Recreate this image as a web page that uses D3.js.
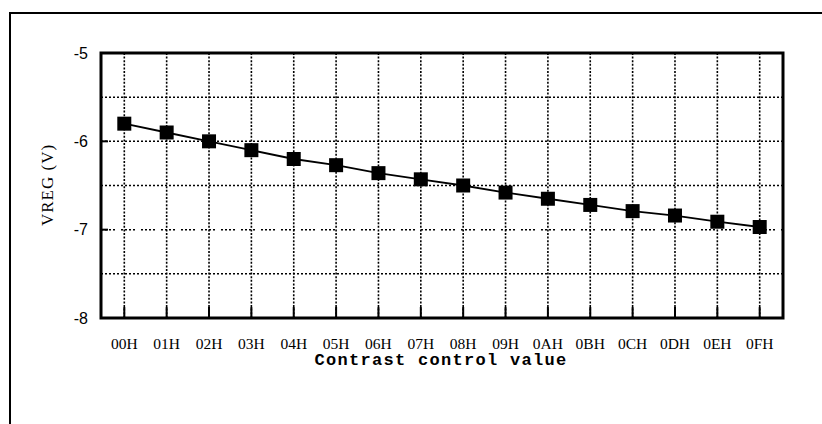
<!DOCTYPE html>
<html>
<head>
<meta charset="utf-8">
<script src="https://cdn.jsdelivr.net/npm/d3@7"></script>
<style>
  body { margin: 0; background: #fff; }
  svg { display: block; }
</style>
</head>
<body>
<svg id="chart" width="822" height="424"></svg>
<script>
// contrast codes on the x axis
const codes = ["00H", "01H", "02H", "03H", "04H", "05H", "06H", "07H",
               "08H", "09H", "0AH", "0BH", "0CH", "0DH", "0EH", "0FH"];
// VREG readings (V)
const vreg = [-5.8, -5.9, -6.0, -6.1, -6.2, -6.27, -6.36, -6.43,
              -6.5, -6.58, -6.65, -6.72, -6.79, -6.84, -6.91, -6.97];
const yTicks = [-5, -6, -7, -8];
const yGrid = [-5.5, -6, -6.5, -7, -7.5];

const svg = d3.select("#chart");
const plotL = 101, plotR = 783, plotT = 53, plotB = 318;

const x = d3.scalePoint().domain(codes).range([plotL, plotR]).padding(0.55);
const y = d3.scaleLinear().domain([-8, -5]).range([plotB, plotT]);

// outer frame (only left + top visible in scan)
svg.append("path")
    .attr("d", "M10,424 L10,13 L822,13")
    .attr("fill", "none")
    .attr("stroke", "#000")
    .attr("stroke-width", 2);

// dotted grid
svg.append("g").selectAll("line")
    .data(codes)
    .join("line")
    .attr("x1", d => x(d)).attr("x2", d => x(d))
    .attr("y1", plotT).attr("y2", plotB)
    .attr("stroke", "#000")
    .attr("stroke-width", 1.6)
    .attr("stroke-dasharray", "2,1.6");

svg.append("g").selectAll("line")
    .data(yGrid)
    .join("line")
    .attr("x1", plotL).attr("x2", plotR)
    .attr("y1", d => y(d)).attr("y2", d => y(d))
    .attr("stroke", "#000")
    .attr("stroke-width", 1.5)
    .attr("stroke-dasharray", d => d === -7 ? "2,2,2,2,2,2,2,6" : "2,2");

// short ticks inside the bottom axis
svg.append("g").selectAll("line")
    .data(codes)
    .join("line")
    .attr("x1", d => x(d)).attr("x2", d => x(d))
    .attr("y1", plotB).attr("y2", plotB - 11)
    .attr("stroke", "#000")
    .attr("stroke-width", 2);

// small ticks on left axis
svg.append("g").selectAll("line")
    .data(yTicks)
    .join("line")
    .attr("x1", plotL).attr("x2", plotL + 7)
    .attr("y1", d => y(d)).attr("y2", d => y(d))
    .attr("stroke", "#000")
    .attr("stroke-width", 2);

// plot frame
svg.append("rect")
    .attr("x", plotL).attr("y", plotT)
    .attr("width", plotR - plotL).attr("height", plotB - plotT)
    .attr("fill", "none")
    .attr("stroke", "#000")
    .attr("stroke-width", 3);

// y tick labels
svg.append("g").selectAll("text")
    .data(yTicks)
    .join("text")
    .attr("x", 88)
    .attr("y", d => y(d))
    .attr("dy", "0.35em")
    .attr("text-anchor", "end")
    .style("font-family", "'Liberation Sans', Arial, sans-serif")
    .style("font-size", "16px")
    .text(d => d);

// x tick labels
svg.append("g").selectAll("text")
    .data(codes)
    .join("text")
    .attr("x", d => x(d))
    .attr("y", 349)
    .attr("text-anchor", "middle")
    .style("font-family", "'Liberation Serif', 'Times New Roman', serif")
    .style("font-size", "15.5px")
    .text(d => d);

// axis titles
svg.append("text")
    .attr("x", 441)
    .attr("y", 365)
    .attr("text-anchor", "middle")
    .style("font-family", "'Liberation Mono', 'Courier New', monospace")
    .style("font-size", "17px")
    .style("font-weight", "bold")
    .style("letter-spacing", "1.3px")
    .text("Contrast control value");

svg.append("text")
    .attr("transform", "translate(53,185) rotate(-90)")
    .attr("text-anchor", "middle")
    .style("font-family", "'Liberation Serif', 'Times New Roman', serif")
    .style("font-size", "17px")
    .style("letter-spacing", "1px")
    .text("VREG (V)");

// data line + square markers
const line = d3.line()
    .x((d, i) => x(codes[i]))
    .y(d => y(d));

svg.append("path")
    .datum(vreg)
    .attr("d", line)
    .attr("fill", "none")
    .attr("stroke", "#000")
    .attr("stroke-width", 1.8);

const sz = 14;
svg.append("g").selectAll("rect")
    .data(vreg)
    .join("rect")
    .attr("x", (d, i) => x(codes[i]) - sz / 2)
    .attr("y", d => y(d) - sz / 2)
    .attr("width", sz)
    .attr("height", sz)
    .attr("fill", "#000");
</script>
</body>
</html>
